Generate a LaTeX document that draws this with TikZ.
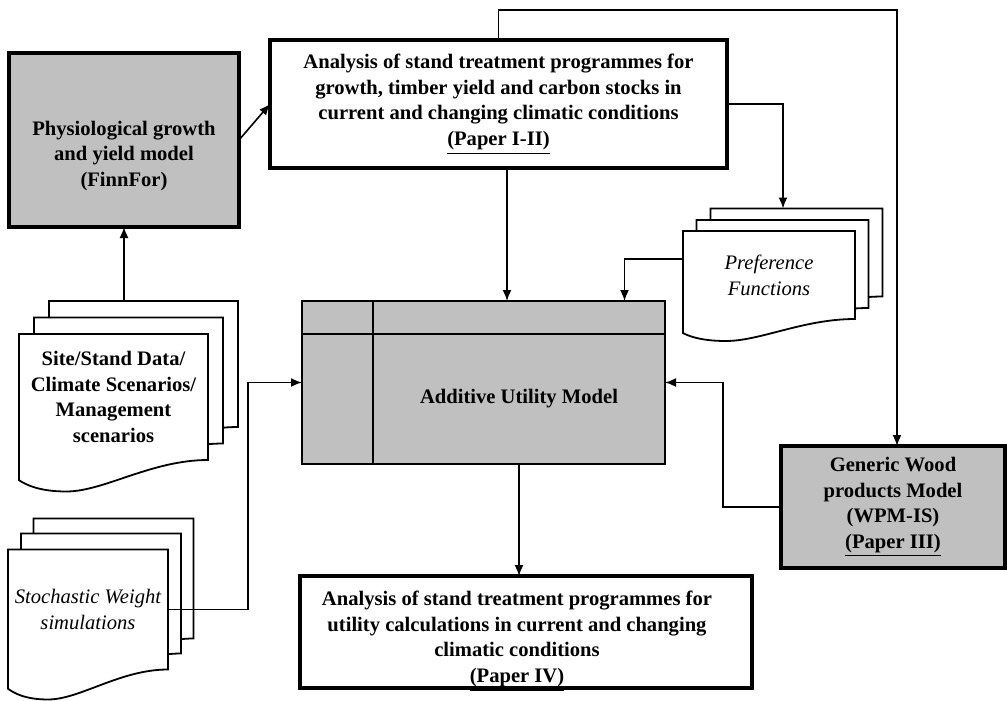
\documentclass[tikz,border=0pt]{standalone}
\usepackage{fontspec}
\setmainfont{Liberation Serif}
\usetikzlibrary{arrows.meta, calc, backgrounds}
\definecolor{boxgray}{RGB}{192,192,192}

% document sheet with a wavy lower edge, drawn behind the node
\newcommand{\sheetoutline}[1]{%
  \begin{scope}[on background layer]
    \path[sheet] let \p1=(#1.north west), \p2=(#1.south east),
      \n1={\x2-\x1}, \n2={\y1-\y2} in
      (\p1) -- (\x2,\y1) -- (\p2)
      .. controls ({\x2-0.3*\n1},\y2) and ({\x1+0.45*\n1},{\y2-0.25*\n2})
      .. ({\x1+0.25*\n1},{\y2-0.25*\n2})
      .. controls ({\x1+0.1*\n1},{\y2-0.25*\n2}) and ({\x1+0.03*\n1},{\y2-0.19*\n2})
      .. (\x1,{\y2-0.16*\n2}) -- cycle;
  \end{scope}}

\begin{document}
\begin{tikzpicture}[x=0.5pt, y=-0.5pt, >={Latex[length=5.5pt,width=4.5pt]},
  every node/.style={align=center, inner sep=0pt, outer sep=0pt,
    font=\fontsize{10.3}{12.9}\selectfont\bfseries},
  graybox/.style={draw, fill=boxgray, line width=1.6pt},
  whitebox/.style={draw, fill=white, line width=2.4pt},
  sheet/.style={draw, fill=white, line width=0.9pt},
  italictext/.style={font=\fontsize{10.3}{12.9}\selectfont\itshape},
  conn/.style={->, line width=0.8pt}]

  \useasboundingbox (0,0) rectangle (1007,701);

  % models and analyses
  \node[graybox, minimum width=115pt, minimum height=87pt] (phys) at (124,140) {};
  \node (phystext) at (124,156) {Physiological growth\\and yield model\\(FinnFor)};
  \node[whitebox, minimum width=228.5pt, minimum height=64pt] (topbox) at (498.5,104)
    {Analysis of stand treatment programmes for\\growth, timber yield and carbon stocks in\\current and changing climatic conditions\\\underline{(Paper I-II)}};
  \node[graybox, line width=1.4pt, minimum width=181.5pt, minimum height=81.5pt] (aum) at (483.5,382.5) {};
  \draw[line width=1.4pt] (373,301) -- (373,464) (302,334) -- (665,334);
  \node (aumtext) at (519,399) {Additive Utility Model};
  \node[graybox, minimum width=112pt, minimum height=61pt] (generic) at (893,507)
    {Generic Wood\\products Model\\(WPM-IS)\\\underline{(Paper III)}};
  \node[whitebox, minimum width=226pt, minimum height=56pt] (paperfour) at (526,632) {};
  \node (paperfourtext) at (517,641)
    {Analysis of stand treatment programmes for\\utility calculations in current and changing\\climatic conditions\\\underline{(Paper IV)}};

  % document stacks
  \node[minimum width=86pt, minimum height=44pt] (pref3) at (796.5,252.5) {};
  \node[minimum width=86pt, minimum height=44pt] (pref2) at (782.5,264) {};
  \node[italictext, minimum width=86pt, minimum height=44pt] (pref1) at (769,275) {Preference\\Functions};
  \sheetoutline{pref3}\sheetoutline{pref2}\sheetoutline{pref1}

  \node[minimum width=94.5pt, minimum height=63pt] (site3) at (143.5,364) {};
  \node[minimum width=94.5pt, minimum height=63pt] (site2) at (128.5,380.5) {};
  \node[minimum width=94.5pt, minimum height=63pt] (site1) at (113.5,397)
    {Site/Stand Data/\\Climate Scenarios/\\Management\\scenarios};
  \sheetoutline{site3}\sheetoutline{site2}\sheetoutline{site1}

  \node[minimum width=80pt, minimum height=60pt] (stoch3) at (113.5,578.5) {};
  \node[minimum width=80pt, minimum height=60pt] (stoch2) at (101,593.5) {};
  \node[italictext, minimum width=80pt, minimum height=60pt] (stoch1) at (88,609.5)
    {Stochastic Weight\\simulations};
  \sheetoutline{stoch3}\sheetoutline{stoch2}\sheetoutline{stoch1}

  % connectors
  \coordinate (tbout) at ($(topbox.south)+(8.5,0)$);
  \draw[conn] (phys.east) -- (topbox.west);
  \draw[conn] (phys.south |- site3.north) -- (phys.south);
  \draw[conn] (topbox.north) -- ++(0,-30) -| ($(generic.north)+(4,0)$);
  \draw[conn] (topbox.east) -| ($(pref3.north)+(-13.5,0)$);
  \draw[conn] (tbout) -- (tbout |- aum.north);
  \draw[conn] ($(pref1.west)+(0,-16)$) -| ($(aum.north)+(141,0)$);
  \draw[conn] (stoch1.east) -| ($(aum.west)+(-54,0)$) -- (aum.west);
  \draw[conn] (generic.west) -| ($(aum.east)+(58,0)$) -- (aum.east);
  \draw[conn] (aumtext |- aum.south) -- (aumtext |- paperfour.north);
\end{tikzpicture}
\end{document}
